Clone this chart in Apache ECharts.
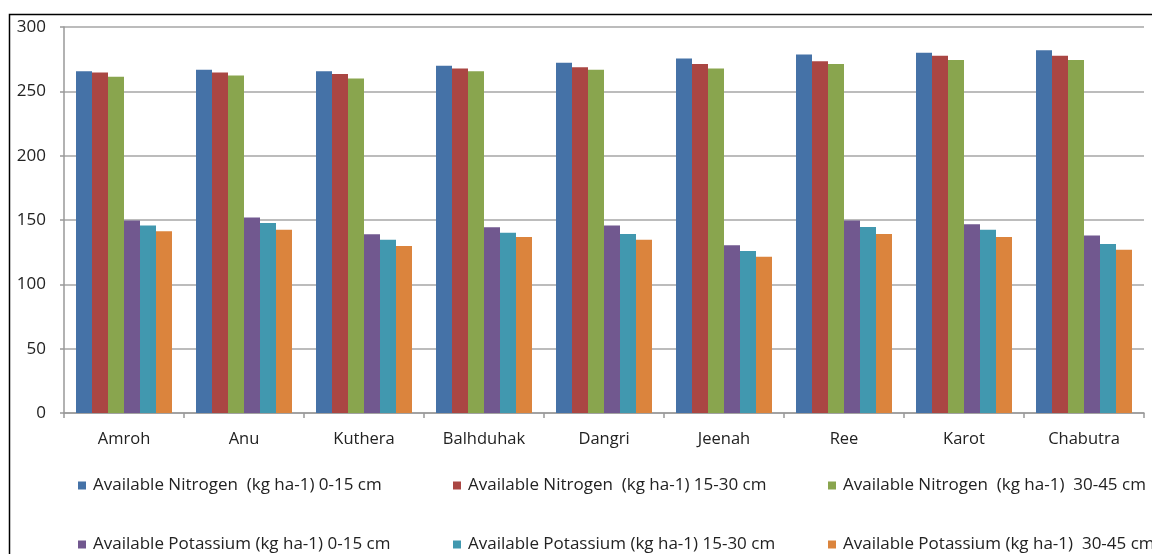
<!DOCTYPE html>
<html>
<head>
    <meta charset="utf-8">
    <title>Available N and K</title>
    <script src="https://cdn.jsdelivr.net/npm/echarts@6/dist/echarts.min.js"></script>
    <style>
        html, body { margin: 0; padding: 0; background: #fff; }
    </style>
</head>
<body>
    <div id="main" style="width: 1152px;height:554px;"></div>
    <script type="text/javascript">
        // data
        var villages = ['Amroh', 'Anu', 'Kuthera', 'Balhduhak', 'Dangri', 'Jeenah', 'Ree', 'Karot', 'Chabutra'];
        var nitrogen0_15  = [265.7, 266.8, 265.7, 269.9, 272.2, 275.6, 278.7, 280.0, 282.0];
        var nitrogen15_30 = [264.7, 264.7, 263.4, 267.8, 268.8, 271.2, 273.3, 277.6, 277.6];
        var nitrogen30_45 = [261.3, 262.4, 260.0, 265.7, 266.8, 267.8, 271.2, 274.3, 274.3];
        var potassium0_15  = [149.7, 152.0, 139.0, 144.3, 145.8, 130.3, 149.7, 146.6, 138.0];
        var potassium15_30 = [145.8, 147.6, 134.7, 140.1, 139.1, 125.9, 144.5, 142.4, 131.3];
        var potassium30_45 = [141.2, 142.5, 129.8, 136.8, 134.7, 121.5, 139.1, 136.8, 126.9];
        var seriesNames = [
            'Available Nitrogen  (kg ha-1) 0-15 cm',
            'Available Nitrogen  (kg ha-1) 15-30 cm',
            'Available Nitrogen  (kg ha-1)  30-45 cm',
            'Available Potassium (kg ha-1) 0-15 cm',
            'Available Potassium (kg ha-1) 15-30 cm',
            'Available Potassium (kg ha-1)  30-45 cm'
        ];
        var seriesData = [nitrogen0_15, nitrogen15_30, nitrogen30_45, potassium0_15, potassium15_30, potassium30_45];
        var colors = ['#4572A7', '#AA4643', '#89A54E', '#71588F', '#4198AF', '#DB843D'];

        var myChart = echarts.init(document.getElementById('main'));

        var fontFam = '"Open Sans", "Liberation Sans", sans-serif';

        var series = [];
        var legends = [];
        var legendLeft = [78, 453, 828];
        var legendTop = [477, 536];
        for (var i = 0; i < seriesData.length; i++) {
            series.push({
                name: seriesNames[i],
                type: 'bar',
                data: seriesData[i],
                barGap: 0,
                barCategoryGap: '20%',
                itemStyle: { color: colors[i] }
            });
            // one legend per item so the columns line up like the original
            legends.push({
                data: [seriesNames[i]],
                left: legendLeft[i % 3],
                top: legendTop[Math.floor(i / 3)],
                padding: 0,
                itemWidth: 8, itemHeight: 8, itemGap: 7,
                icon: 'rect',
                textStyle: { fontSize: 17, color: '#222', fontFamily: fontFam, padding: [0, 0, 0, 2] }
            });
        }

        var option = {
            animation: false,
            color: colors,
            graphic: [{
                type: 'rect',
                shape: { x: 9.5, y: 14.5, width: 1300, height: 700 },
                style: { fill: 'none', stroke: '#000', lineWidth: 1.5 },
                silent: true
            }],
            grid: { left: 64, right: 8, top: 27, bottom: 141 },
            legend: legends,
            xAxis: {
                type: 'category',
                data: villages,
                axisLine: { lineStyle: { color: '#999', width: 1.5 } },
                axisTick: { show: true, length: 5, lineStyle: { color: '#999', width: 1.5 } },
                axisLabel: { fontSize: 16.5, color: '#222', fontFamily: fontFam, margin: 18 }
            },
            yAxis: {
                type: 'value',
                min: 0, max: 300, interval: 50,
                axisLine: { show: true, lineStyle: { color: '#999', width: 1.5 } },
                axisTick: { show: true, length: 4, lineStyle: { color: '#999', width: 1.5 } },
                axisLabel: { fontSize: 17, color: '#222', fontFamily: fontFam, margin: 18 },
                splitLine: { lineStyle: { color: '#a6a6a6', width: 1.5 } }
            },
            series: series
        };

        myChart.setOption(option);
    </script>
</body>
</html>
